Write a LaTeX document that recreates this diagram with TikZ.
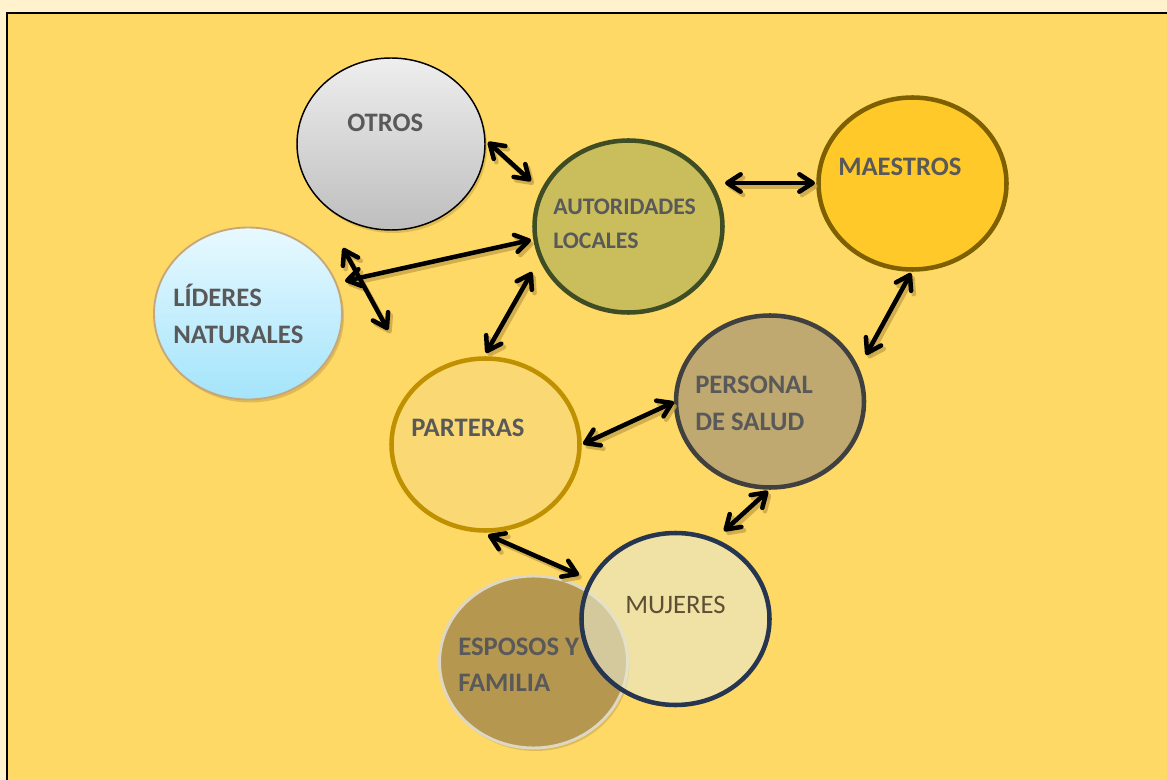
\documentclass[tikz,border=0pt]{standalone}
\usepackage{fontspec}
\setmainfont{Carlito}
\usetikzlibrary{shapes.geometric,arrows.meta}

\definecolor{pagecream}{RGB}{255,242,204}
\definecolor{panelgold}{RGB}{255,217,102}
\definecolor{txtgray}{RGB}{89,89,89}
\definecolor{txtbrown}{RGB}{94,78,52}
\definecolor{shadowc}{RGB}{200,164,70}
\definecolor{otrosTop}{RGB}{238,238,238}
\definecolor{otrosBot}{RGB}{190,190,190}
\definecolor{lidTop}{RGB}{232,249,255}
\definecolor{lidBot}{RGB}{164,228,251}
\definecolor{lidLine}{RGB}{198,168,120}
\definecolor{autFill}{RGB}{201,189,92}
\definecolor{autLine}{RGB}{62,77,36}
\definecolor{maeFill}{RGB}{255,201,41}
\definecolor{maeLine}{RGB}{127,96,0}
\definecolor{perFill}{RGB}{191,169,112}
\definecolor{perLine}{RGB}{64,64,64}
\definecolor{parFill}{RGB}{250,216,116}
\definecolor{parLine}{RGB}{191,144,0}
\definecolor{espFill}{RGB}{181,151,80}
\definecolor{espLine}{RGB}{222,215,195}
\definecolor{mujFill}{RGB}{231,233,205}
\definecolor{mujLine}{RGB}{38,53,80}

\tikzset{
  bubble/.style={ellipse, inner sep=0pt, minimum width=141pt, minimum height=129pt},
  thickrim/.style={line width=3.4pt},
  bubbleshadow/.style={bubble, fill=shadowc, fill opacity=0.55, draw=none},
  lbl/.style={anchor=base west, inner sep=0pt, text=txtgray,
              font=\bfseries\fontsize{20}{24}\selectfont},
  lblsmall/.style={lbl, font=\bfseries\fontsize{17.8}{21}\selectfont},
  link/.style={draw=black, line width=3.4pt, line cap=round,
               >={Straight Barb[round, length=10pt, width=13pt]}, <->},
  linkshadow/.style={link, draw=shadowc, draw opacity=0.8,
               transform canvas={shift={(2pt,-2.5pt)}}},
}

\begin{document}
\begin{tikzpicture}[x=0.75pt, y=-0.75pt]
  \useasboundingbox (0,0) rectangle (1167,780);
  \clip (0,0) rectangle (1167,780);

  % page and framed panel
  \fill[pagecream] (0,0) rectangle (1167,780);
  \fill[panelgold] (7,12.8) rectangle (1190,800);
  \draw[black, line width=1.8pt] (1190,12.8) -- (7,12.8) -- (7,800);

  % soft drop shadows under the light bubbles
  \node[bubbleshadow] (otrosSh) at (393,147) {};
  \node[bubbleshadow] (lideresSh) at (250,316.5) {};
  \node[bubbleshadow] (espososSh) at (535.5,665) {};

  % bubbles
  \node[bubble, top color=otrosTop, bottom color=otrosBot, draw=black, line width=1.1pt]
       (otros) at (391,144) {};
  \node[bubble, top color=lidTop, bottom color=lidBot, draw=lidLine, line width=1.4pt]
       (lideres) at (248,313.5) {};
  \node[bubble, fill=autFill, draw=autLine, thickrim] (autoridades) at (628.5,226.5) {};
  \node[bubble, fill=maeFill, draw=maeLine, thickrim] (maestros) at (912.5,183.5) {};
  \node[bubble, fill=perFill, draw=perLine, thickrim] (personal) at (770,401.5) {};
  \node[bubble, fill=parFill, draw=parLine, thickrim] (parteras) at (485.5,444.5) {};
  \node[bubble, fill=espFill, draw=espLine, line width=2.2pt] (esposos) at (533.5,662) {};
  \node[bubble, fill=mujFill, fill opacity=0.62, draw=mujLine, draw opacity=1, thickrim]
       (mujeres) at (675.5,619) {};

  % arrow end points next to the bubbles
  \coordinate (oA) at (488,142);   \coordinate (aO) at (531,181);
  \coordinate (lA) at (345,281);   \coordinate (aL) at (531,240);
  \coordinate (lX) at (343,248);   \coordinate (pX) at (388,330);
  \coordinate (aP) at (532,272);   \coordinate (pA) at (486,353);
  \coordinate (aM) at (725,183);   \coordinate (mA) at (815,183);
  \coordinate (mS) at (911,273);   \coordinate (sM) at (866,355);
  \coordinate (pS) at (583,444);   \coordinate (sP) at (674,402);
  \coordinate (sW) at (768,491);   \coordinate (wS) at (724,531);
  \coordinate (pW) at (488,535);   \coordinate (wP) at (579,575);

  % arrow shadows
  \foreach \s/\e in {oA/aO, lA/aL, lX/pX, aP/pA, aM/mA, mS/sM, pS/sP, sW/wS, pW/wP}
    \draw[linkshadow] (\s) -- (\e);
  % two-way arrows
  \foreach \s/\e in {oA/aO, lA/aL, lX/pX, aP/pA, aM/mA, mS/sM, pS/sP, sW/wS, pW/wP}
    \draw[link] (\s) -- (\e);

  % labels
  \node[lbl] (tOtros) at (347,131.4) {OTROS};
  \node[lblsmall] (tAut1) at (553,215) {AUTORIDADES};
  \node[lblsmall] (tAut2) at (553,249) {LOCALES};
  \node[lbl] (tMae) at (838,175.4) {MAESTROS};
  \node[lbl] (tLid1) at (173,306.4) {LÍDERES};
  \node[lbl] (tLid2) at (173,343.4) {NATURALES};
  \node[lbl] (tPar) at (411,436.4) {PARTERAS};
  \node[lbl] (tPer1) at (695,393.4) {PERSONAL};
  \node[lbl] (tPer2) at (695,430.4) {DE SALUD};
  \node[lbl, text=txtbrown, font=\fontsize{20}{24}\selectfont] (tMuj) at (625,613.4) {MUJERES};
  \node[lbl] (tEsp1) at (458,655.4) {ESPOSOS Y};
  \node[lbl] (tEsp2) at (458,691.4) {FAMILIA};
\end{tikzpicture}
\end{document}
